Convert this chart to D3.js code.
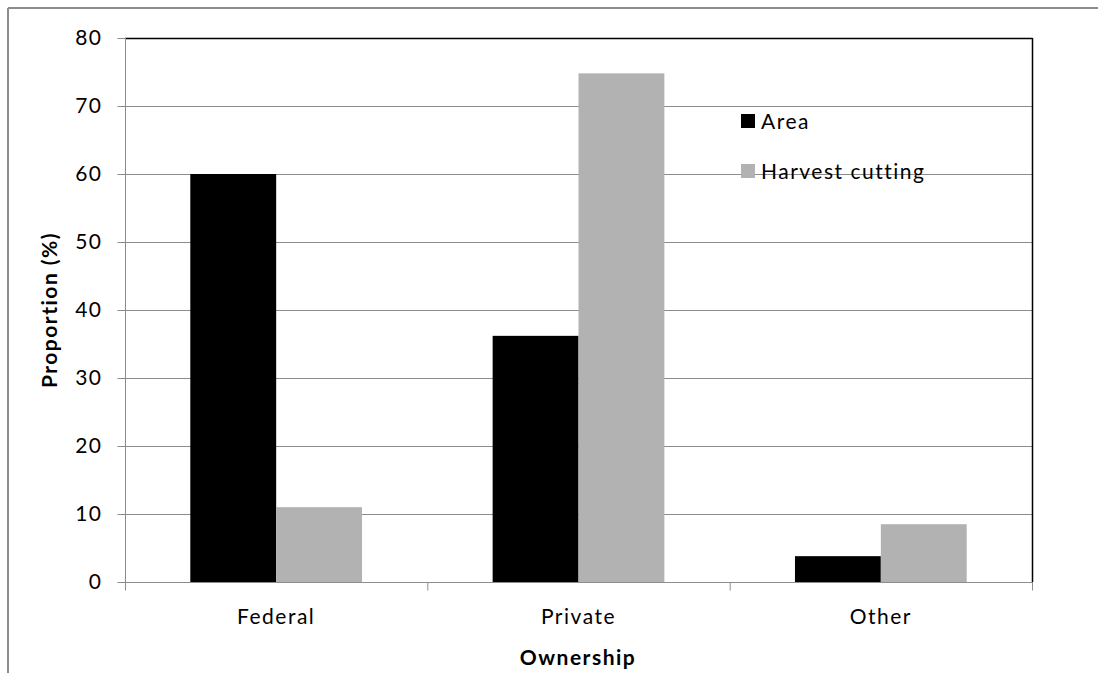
<!DOCTYPE html>
<html><head><meta charset="utf-8">
<script src="https://cdn.jsdelivr.net/npm/d3@7"></script>
<style>body{margin:0;background:#fff;font-family:Lato,sans-serif;} text{letter-spacing:1.5px;}</style>
</head><body><svg id="c" width="1098" height="673"></svg>
<script>
const categories = ["Federal","Private","Other"];
const seriesNames = ["Area","Harvest cutting"];
const areaValues = [60, 36.2, 3.8];
const harvestValues = [11, 74.8, 8.5];
const yTicks = [0,10,20,30,40,50,60,70,80];
const colors = ["#000000","#b2b2b2"];
const FONT = "Lato";

const svg = d3.select("#c");
const m = {l:125, r:1032, t:38, b:582};
// outer frame
svg.append("line").attr("x1",8).attr("x2",1098).attr("y1",8).attr("y2",8).attr("stroke","#8c8c8c").attr("stroke-width",2);
svg.append("line").attr("x1",8).attr("x2",8).attr("y1",8).attr("y2",673).attr("stroke","#8c8c8c").attr("stroke-width",2);

const x = d3.scaleBand().domain(categories).range([m.l,m.r]).paddingInner(0).paddingOuter(0);
const y = d3.scaleLinear().domain([0,80]).range([m.b,m.t]);
const groupPad = 0.216;
const xs = d3.scaleBand().domain(seriesNames).range([x.bandwidth()*groupPad, x.bandwidth()*(1-groupPad)]);

// gridlines
svg.append("g").selectAll("line").data(yTicks.filter(d=>d>0 && d<80)).join("line")
  .attr("x1",m.l).attr("x2",m.r).attr("y1",d=>y(d)+0.5).attr("y2",d=>y(d)+0.5)
  .attr("stroke","#8c8c8c").attr("stroke-width",1);

const data = categories.map((c,i)=>({c, vals:[areaValues[i],harvestValues[i]]}));
const g = svg.append("g").selectAll("g").data(data).join("g").attr("transform",d=>`translate(${x(d.c)},0)`);
g.selectAll("rect").data(d=>d.vals.map((v,j)=>({v,s:seriesNames[j],j}))).join("rect")
  .attr("x",d=>xs(d.s)).attr("width",xs.bandwidth())
  .attr("y",d=>y(d.v)).attr("height",d=>y(0)-y(d.v)).attr("fill",d=>colors[d.j]);

// plot border top/right black
svg.append("line").attr("x1",m.l).attr("x2",m.r+0.5).attr("y1",m.t+0.5).attr("y2",m.t+0.5).attr("stroke","#000").attr("stroke-width",1.5);
svg.append("line").attr("x1",m.r+0.5).attr("x2",m.r+0.5).attr("y1",m.t).attr("y2",m.b).attr("stroke","#000").attr("stroke-width",1.5);

// y axis
const yAxis = d3.axisLeft(y).tickValues(yTicks).tickSize(8).tickPadding(15);
const ya = svg.append("g").attr("transform",`translate(${m.l+0.5},0)`).call(yAxis);
ya.selectAll("path,line").attr("stroke","#8c8c8c");
ya.select(".domain").attr("d",`M-0,${m.t}V${m.b+8}`);
ya.selectAll("text").attr("font-family",FONT).attr("font-size",21).attr("fill","#000");

// x axis
const xa = svg.append("g").attr("transform",`translate(0,${m.b+0.5})`);
xa.append("line").attr("x1",m.l).attr("x2",m.r+1).attr("stroke","#8c8c8c");
const bounds = categories.map(c=>x(c)).concat([x(categories[categories.length-1])+x.bandwidth()]);
xa.selectAll("line.t").data(bounds).join("line").attr("class","t")
  .attr("x1",d=>d+0.5).attr("x2",d=>d+0.5).attr("y1",0).attr("y2",8).attr("stroke","#8c8c8c");
xa.selectAll("text").data(categories).join("text")
  .attr("x",d=>x(d)+x.bandwidth()/2).attr("y",41).attr("text-anchor","middle")
  .attr("font-family",FONT).attr("font-size",21).attr("fill","#000").text(d=>d);

// axis titles
svg.append("text").attr("x",578).attr("y",665).attr("text-anchor","middle")
  .attr("font-family",FONT).attr("font-weight","bold").attr("font-size",21).text("Ownership");
svg.append("text").attr("transform","translate(57,310) rotate(-90)").attr("text-anchor","middle")
  .attr("font-family",FONT).attr("font-weight","bold").attr("font-size",21).text("Proportion (%)");

// legend
const lg = svg.append("g").selectAll("g").data(seriesNames).join("g")
  .attr("transform",(d,i)=>`translate(741,${114+i*50})`);
lg.append("rect").attr("width",14).attr("height",14).attr("fill",(d,i)=>colors[i]);
lg.append("text").attr("x",20).attr("y",15).attr("font-family",FONT).attr("font-size",21).attr("fill","#000").text(d=>d);
</script></body></html>
